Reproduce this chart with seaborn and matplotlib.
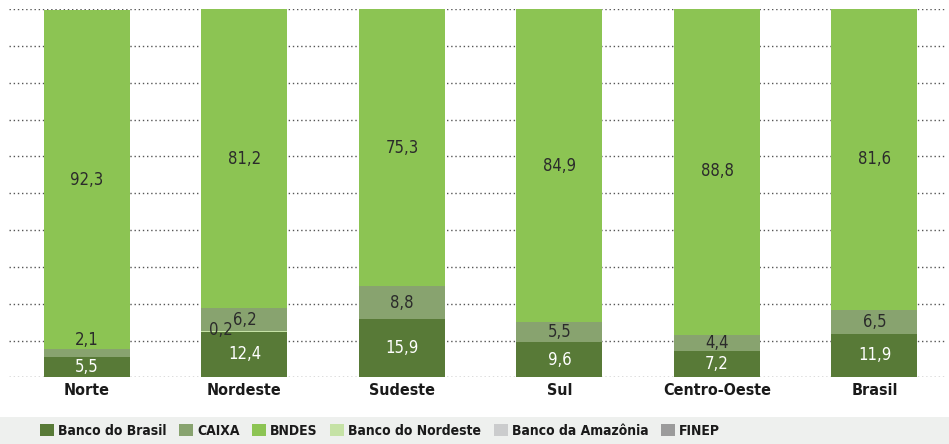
import numpy as np
import pandas as pd
import seaborn as sns
import matplotlib.pyplot as plt
from matplotlib.patches import Rectangle, Patch

# data (percent of credit by institution)
regioes = ['Norte', 'Nordeste', 'Sudeste', 'Sul', 'Centro-Oeste', 'Brasil']
banco_do_brasil = [5.5, 12.4, 15.9, 9.6, 7.2, 11.9]
banco_do_nordeste = [0.0, 0.2, 0.0, 0.0, 0.0, 0.0]
caixa = [2.1, 6.2, 8.8, 5.5, 4.4, 6.5]
bndes = [92.3, 81.2, 75.3, 84.9, 88.8, 81.6]
banco_da_amazonia = [0.0, 0.0, 0.0, 0.0, 0.0, 0.0]
finep = [0.0, 0.0, 0.0, 0.0, 0.0, 0.0]

legend_order = ['Banco do Brasil', 'CAIXA', 'BNDES', 'Banco do Nordeste', 'Banco da Amazônia', 'FINEP']
colors = {
    'Banco do Brasil': '#587a37',
    'CAIXA': '#88a36f',
    'BNDES': '#8cc453',
    'Banco do Nordeste': '#c5e2a5',
    'Banco da Amazônia': '#cbcccd',
    'FINEP': '#9b9b9b',
}

# stacking order, bottom to top
df = pd.DataFrame({
    'Banco do Brasil': banco_do_brasil,
    'Banco do Nordeste': banco_do_nordeste,
    'CAIXA': caixa,
    'BNDES': bndes,
    'Banco da Amazônia': banco_da_amazonia,
    'FINEP': finep,
}, index=regioes)
cum = df.cumsum(axis=1)

sns.set_theme(style='white')
plt.rcParams['font.family'] = ['DejaVu Sans']
plt.rcParams['font.stretch'] = 'condensed'

fig = plt.figure(figsize=(9.49, 4.44), dpi=100)
ax = fig.add_axes([9 / 949, 1 - 377.3 / 444, 936 / 949, 368 / 444])

# draw cumulative layers from the top one down so each covers the next
for serie in reversed(df.columns):
    layer = pd.DataFrame({'regiao': regioes, 'valor': cum[serie].values})
    sns.barplot(data=layer, x='regiao', y='valor', color=colors[serie],
                width=0.546, saturation=1, linewidth=0, ax=ax, zorder=2)

# value labels
for i, reg in enumerate(regioes):
    for serie in df.columns:
        v = df.loc[reg, serie]
        if v <= 0:
            continue
        top = cum.loc[reg, serie]
        base = top - v
        txt = f'{v:.1f}'.replace('.', ',')
        col = 'white' if serie == 'Banco do Brasil' else '#2b2b2b'
        if v < 1:
            x, y = i - 0.15, top + 0.2
        elif v < 3:
            x, y = i, top + 2.5
        else:
            x, y = i, base + v / 2
        ax.text(x, y, txt, ha='center', va='center', fontsize=12, color=col, zorder=5)

ax.set_xlim(-0.495, 5.448)
ax.set_ylim(0, 100)
ax.set_yticks(np.arange(0, 101, 10))
ax.set_yticklabels([])
ax.yaxis.grid(True, linestyle=(0, (1, 2)), color='#555555', linewidth=1)
ax.xaxis.grid(False)
ax.set_axisbelow(True)
for s in ax.spines.values():
    s.set_visible(False)
ax.set_xlabel('')
ax.set_ylabel('')
ax.tick_params(axis='both', length=0)
ax.tick_params(axis='x', pad=4)
for lab in ax.get_xticklabels():
    lab.set_fontweight('bold')
    lab.set_fontsize(11.5)
    lab.set_color('#1a1a1a')

# grey band behind the legend
fig.patches.append(Rectangle((0, 0), 1, 27 / 444, transform=fig.transFigure,
                             facecolor='#eef0ee', edgecolor='none', zorder=0))
handles = [Patch(facecolor=colors[k], edgecolor='none', label=k) for k in legend_order]
leg = fig.legend(handles=handles, loc='center left', bbox_to_anchor=(40 / 949, 13 / 444),
                 ncol=6, frameon=False, fontsize=10, handlelength=1.0, handleheight=1.0,
                 handletextpad=0.3, columnspacing=0.9, borderaxespad=0, borderpad=0)
for t in leg.get_texts():
    t.set_fontweight('bold')
    t.set_color('#1a1a1a')

fig.savefig('out.png', dpi=100)
